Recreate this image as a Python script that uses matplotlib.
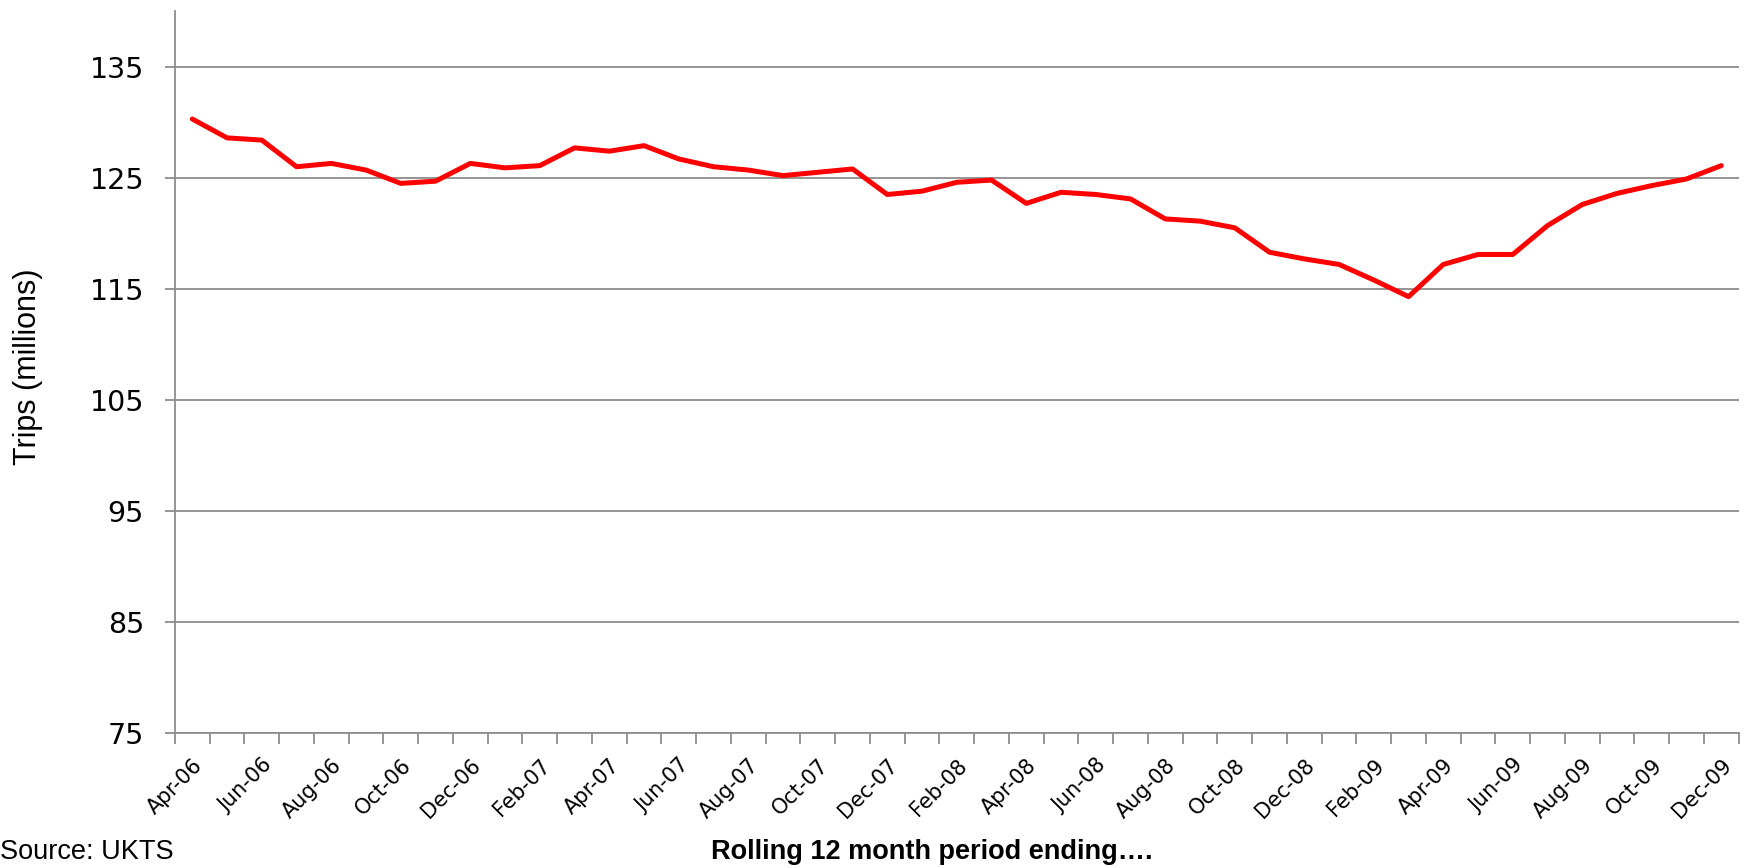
import numpy as np
import pandas as pd
import matplotlib
matplotlib.use("Agg")
import matplotlib.pyplot as plt

# ------------------------------
# data: rolling 12 month trips (millions), Apr-06 .. Dec-09
# ------------------------------
months = pd.date_range("2006-04-01", "2009-12-01", freq="MS").strftime("%b-%y").tolist()

trips = [130.3, 128.6, 128.4, 126.0, 126.3, 125.7, 124.5, 124.7, 126.3,
         125.9, 126.1, 127.7, 127.4, 127.9, 126.7, 126.0, 125.7, 125.2,
         125.5, 125.8, 123.5, 123.8, 124.6, 124.8, 122.7, 123.7, 123.5,
         123.1, 121.3, 121.1, 120.5, 118.3, 117.7, 117.2, 115.8, 114.3,
         117.2, 118.1, 118.1, 120.7, 122.6, 123.6, 124.3, 124.9, 126.1]

y_ticks = [75, 85, 95, 105, 115, 125, 135]

# ------------------------------
# figure
# ------------------------------
fig = plt.figure(figsize=(17.58, 8.68), dpi=100)
ax = fig.add_axes([0.0995, 0.1555, 0.8895, 0.8315])

x = np.arange(len(trips))
ax.plot(x, trips, color="#FF0000", linewidth=3.6, solid_joinstyle="round",
        solid_capstyle="round", zorder=3)

grid_col = "#8C8C8C"
ax.set_ylim(75, 140)
ax.set_yticks(y_ticks)
ax.set_yticklabels([str(v) for v in y_ticks], fontsize=20.5)
ax.yaxis.grid(True, color=grid_col, linewidth=1.3)
ax.tick_params(axis="y", length=7.2, color=grid_col, width=1.3, pad=15)

ax.set_xlim(-0.5, len(trips) - 0.5)
ax.set_xticks(np.arange(len(trips) + 1) - 0.5)
ax.set_xticklabels([])
ax.tick_params(axis="x", which="major", length=8, color=grid_col, width=1.3)
ax.set_xticks(x[::2], minor=True)
ax.set_xticklabels(months[::2], minor=True, fontsize=15, rotation=45,
                   ha="right", va="top", rotation_mode="anchor")
ax.tick_params(axis="x", which="minor", length=0, pad=16)

for s in ["top", "right"]:
    ax.spines[s].set_visible(False)
for s in ["left", "bottom"]:
    ax.spines[s].set_color(grid_col)
    ax.spines[s].set_linewidth(1.3)

fig.text(0.016, 0.577, "Trips (millions)", rotation=90, fontsize=22,
         family="Liberation Sans", ha="center", va="center")
fig.text(0.0, 0.018, "Source: UKTS", fontsize=19.5, family="Liberation Sans",
         ha="left", va="center")
fig.text(0.53, 0.018, "Rolling 12 month period ending\u2026.", fontsize=19.5,
         family="Liberation Sans", weight="bold", ha="center", va="center")

fig.savefig("out.png", dpi=100)
